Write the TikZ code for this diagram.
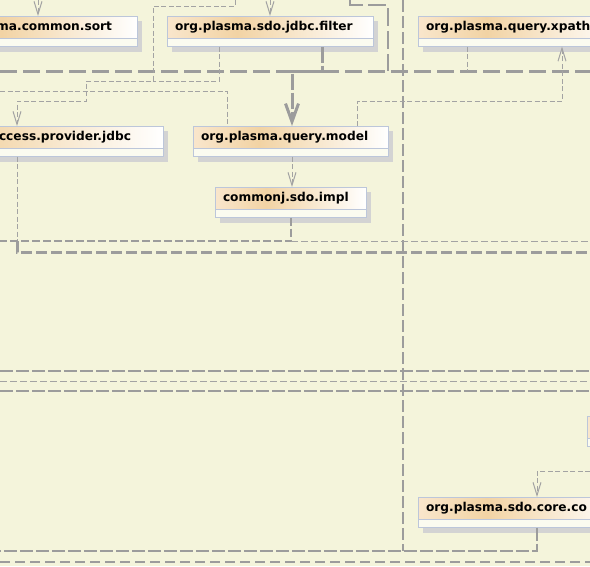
\documentclass[tikz,border=0pt]{standalone}
\usepackage{fontspec}
\setmainfont{DejaVu Sans}
\usetikzlibrary{arrows.meta,calc}
\definecolor{bgc}{HTML}{F4F4DB}
\definecolor{bordc}{HTML}{BCC6DA}
\definecolor{shadc}{HTML}{D3D3D3}
\definecolor{compc}{HTML}{FBFBF0}
\definecolor{hdrL}{HTML}{F9E6CC}
\definecolor{hdrM}{HTML}{F2D3A4}
\definecolor{linec}{HTML}{9C9C9C}
\definecolor{thinc}{HTML}{A3A3A3}
\pgfdeclarehorizontalshading{hdrshade}{100bp}{color(0bp)=(hdrL); color(25bp)=(hdrL); color(42bp)=(hdrM); color(75bp)=(white); color(100bp)=(white)}
\tikzset{
  hdr/.style={draw=bordc, line width=1pt, shade, shading=hdrshade, rectangle, outer sep=0pt,
    minimum height=22pt, inner xsep=8pt, inner ysep=0pt,
    font=\bfseries\fontsize{12.2}{14}\selectfont, align=left},
  comp/.style={draw=bordc, line width=1pt, fill=compc, rectangle, outer sep=0pt,
    minimum height=8.5pt, inner sep=0pt},
  dep/.style={draw=thinc, line width=1pt, dash pattern=on 5pt off 2.5pt},
  deparr/.style={dep, -{Straight Barb[length=13pt,width=8pt]}},
  bigdep/.style={draw=linec, line width=3pt, dash pattern=on 16pt off 3pt,
    -{Straight Barb[length=18pt,width=13pt]}},
  heavyA/.style={draw=linec, line width=3pt, dash pattern=on 17pt off 6pt},
  heavyV/.style={draw=linec, line width=2.5pt, dash pattern=on 12pt off 4pt},
  heavyB/.style={draw=linec, line width=2.5pt, dash pattern=on 18pt off 5pt},
  heavyC/.style={draw=linec, line width=3pt, dash pattern=on 11pt off 4pt},
  heavyH/.style={draw=linec, line width=2.5pt, dash pattern=on 13pt off 3pt},
  medH/.style={draw=linec, line width=2pt, dash pattern=on 10pt off 5pt},
  medL/.style={draw=linec, line width=1.3pt, dash pattern=on 8pt off 3pt},
  thinL/.style={draw=thinc, line width=1pt, dash pattern=on 7pt off 3pt},
}
\newcommand\pkgbox[5]{%
  \pgfmathsetmacro\pkgw{#3-#2}%
  \pgfmathsetmacro\pkgtw{#3-#2-16}%
  \fill[shadc] (#2+5,#4+5) rectangle (#3+5,#4+35.5);
  \node[hdr, minimum width=\pkgw pt, text width=\pkgtw pt, anchor=north west] (#1) at (#2,#4) {#5};
  \node[comp, minimum width=\pkgw pt, anchor=north] (#1c) at (#1.south) {};
}
\begin{document}
\begin{tikzpicture}[x=1pt,y=-1pt]
\useasboundingbox (0,0) rectangle (590,566);
\fill[bgc] (0,0) rectangle (590,566);
\clip (0,0) rectangle (590,566);

% package boxes
\pkgbox{b1}{-68}{137}{16}{org.plasma.common.sort}
\pkgbox{b2}{167}{373}{16}{org.plasma.sdo.jdbc.filter}
\pkgbox{b3}{418}{620}{16}{org.plasma.query.xpath}
\pkgbox{b4}{-128}{163}{126}{org.plasma.sdo.access.provider.jdbc}
\pkgbox{b5}{193}{388}{126}{org.plasma.query.model}
\pkgbox{b6}{215}{366}{187}{commonj.sdo.impl}
\pkgbox{b7}{418}{620}{497}{org.plasma.sdo.core.co}
\pkgbox{b8}{587}{700}{416}{}

% free ends
\coordinate (e1) at (38,0);
\coordinate (e2) at (270,0);
\coordinate (e3) at (235,0);
\coordinate (e4) at (0,91);
\coordinate (e5) at (590,471);
\coordinate (e6) at (350,0);
\coordinate (e7) at (403,0);
\coordinate (l71a) at (0,71);   \coordinate (l71b) at (590,71);
\coordinate (l371a) at (0,371); \coordinate (l371b) at (590,371);
\coordinate (l381a) at (0,381); \coordinate (l381b) at (590,381);
\coordinate (l391a) at (0,391); \coordinate (l391b) at (590,391);
\coordinate (l562a) at (0,562); \coordinate (l562b) at (590,562);
\coordinate (l551a) at (0,551);
\coordinate (l241a) at (0,241); \coordinate (l241b) at (590,241);
\coordinate (l252b) at (590,252);

% heavy package frames
\draw[heavyA] (l71a) -- (l71b);
\draw[heavyB] (e6) -- (350,5) -- (388,5) -- (388,71);
\draw[heavyV] (e7) -- (403,551);
\draw[heavyH] (l371a) -- (l371b);
\draw[thinL] (l381a) -- (l381b);
\draw[heavyH] (l391a) -- (l391b);
\draw[heavyH] (b7c.south -| 537,0) -- (537,551) -- (l551a);
\draw[medH] (l562a) -- (l562b);
\draw[dep] (b4c.south -| 17,0) -- (17,252);
\draw[heavyC] (17,241) -- (17,252) -- (l252b);
\draw[medL] (b6c.south -| 291,0) -- (291,241) -- (l241a);
\draw[thinL] (291,241) -- (l241b);

% dependencies
\draw[bigdep] (b2c.south -| 322,0) -- (322,71) -- (292,71) -- (b5.north -| 292,0);
\draw[deparr] (e1) -- (b1.north -| e1);
\draw[deparr] (e2) -- (b2.north -| e2);
\draw[deparr] (e3) -- (235,6) -- (153,6) -- (153,81) -- (86,81) -- (86,101) -- (17,101) -- (b4.north -| 17,0);
\draw[dep] (b2c.south -| 219,0) -- (219,81) -- (153,81);
\draw[dep] (e4) -- (227,91) -- (b5.north -| 227,0);
\draw[deparr] (b5.north -| 357,0) -- (357,101) -- (562,101) -- (b3c.south -| 562,0);
\draw[deparr] (b5c.south -| 292,0) -- (b6.north -| 292,0);
\draw[dep] (b3c.south -| 467,0) -- (467,71);
\draw[deparr] (e5) -- (537,471) -- (b7.north -| 537,0);
\end{tikzpicture}
\end{document}
